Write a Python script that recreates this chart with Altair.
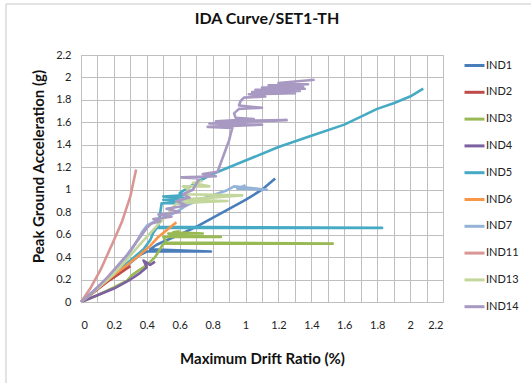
import altair as alt
import pandas as pd

chart_title = "IDA Curve/SET1-TH"
series_names = ["IND1", "IND2", "IND3", "IND4", "IND5", "IND6", "IND7", "IND11", "IND13", "IND14"]
series_colors = ["#4A7EBB", "#BE4B48", "#98B954", "#7D60A0", "#46AAC5",
                 "#F79646", "#95B3D7", "#D99694", "#C3D69B", "#A899C2"]

ind1_x = [0, 0.08, 0.16, 0.24, 0.30, 0.36, 0.40, 0.79, 0.42, 0.46, 0.52, 0.60, 0.70, 0.80, 0.90, 1.00, 1.10, 1.18]
ind1_y = [0, 0.10, 0.19, 0.28, 0.35, 0.42, 0.45, 0.45, 0.47, 0.51, 0.55, 0.60, 0.67, 0.75, 0.83, 0.91, 1.00, 1.10]

ind2_x = [0, 0.08, 0.16, 0.22, 0.27, 0.30]
ind2_y = [0, 0.09, 0.18, 0.24, 0.29, 0.32]

ind3_x = [0, 0.10, 0.20, 0.28, 0.31, 0.34, 0.40, 0.45, 0.48, 0.50, 1.53, 0.52, 0.50, 0.85, 0.55, 0.53, 0.74, 0.56, 0.60]
ind3_y = [0, 0.06, 0.13, 0.19, 0.24, 0.27, 0.33, 0.40, 0.47, 0.52, 0.52, 0.53, 0.58, 0.58, 0.59, 0.61, 0.61, 0.62, 0.63]

ind4_x = [0, 0.10, 0.20, 0.30, 0.36, 0.40, 0.38, 0.42, 0.45]
ind4_y = [0, 0.06, 0.12, 0.20, 0.26, 0.31, 0.37, 0.33, 0.36]

ind5_x = [0, 0.10, 0.20, 0.30, 0.38, 0.42, 0.44, 0.46, 1.83, 0.47, 0.48, 0.49, 0.64, 0.50, 0.65, 0.50, 0.62,
          0.60, 0.62, 0.72, 0.80, 1.00, 1.20, 1.40, 1.60, 1.80, 1.90, 2.00, 2.08]
ind5_y = [0, 0.13, 0.25, 0.37, 0.47, 0.55, 0.62, 0.66, 0.66, 0.67, 0.78, 0.88, 0.88, 0.91, 0.92, 0.94, 0.95,
          0.97, 0.99, 1.08, 1.14, 1.26, 1.38, 1.48, 1.58, 1.72, 1.77, 1.83, 1.90]

ind6_x = [0, 0.10, 0.20, 0.28, 0.35, 0.42, 0.47, 0.52, 0.58]
ind6_y = [0, 0.12, 0.24, 0.33, 0.41, 0.50, 0.58, 0.64, 0.71]

ind7_x = [0, 0.10, 0.20, 0.28, 0.33, 0.37, 0.40, 0.45, 0.52, 0.58, 0.64, 0.72, 0.80, 0.88, 0.93, 1.13, 0.95, 1.00]
ind7_y = [0, 0.13, 0.26, 0.40, 0.52, 0.62, 0.68, 0.72, 0.76, 0.80, 0.86, 0.91, 0.95, 0.99, 1.03, 1.00, 1.01, 1.04]

ind11_x = [0, 0.06, 0.12, 0.20, 0.25, 0.30, 0.31, 0.335]
ind11_y = [0, 0.13, 0.29, 0.55, 0.72, 0.94, 1.01, 1.18]

ind13_x = [0, 0.10, 0.20, 0.28, 0.35, 0.40, 0.45, 0.50, 0.55, 0.58, 0.89, 0.60, 0.98, 0.63, 0.66, 0.62, 0.78, 0.68, 0.74]
ind13_y = [0, 0.12, 0.25, 0.38, 0.50, 0.58, 0.66, 0.74, 0.82, 0.88, 0.90, 0.91, 0.95, 0.96, 1.00, 1.03, 1.03, 1.06, 1.08]

ind14_x = [0, 0.08, 0.16, 0.22, 0.28, 0.33, 0.37, 0.40, 0.43, 0.48, 0.44, 0.55, 0.47, 0.60, 0.52, 0.64, 0.58, 0.66,
           0.62, 0.68, 0.70, 0.72, 0.61, 0.82, 0.74, 0.83, 0.84, 0.86, 0.88, 0.90, 0.91,
           0.92, 0.77, 1.10, 0.78, 1.25, 0.82, 1.05, 0.94,
           0.93, 0.96, 1.10, 0.96,
           0.97, 0.99, 1.12, 1.02, 1.30, 1.04, 1.33, 1.06, 1.36, 1.10, 1.35, 1.14, 1.38, 1.20, 1.42]
ind14_y = [0, 0.10, 0.22, 0.32, 0.42, 0.52, 0.60, 0.66, 0.70, 0.72, 0.74, 0.76, 0.78, 0.80, 0.83, 0.86, 0.90, 0.93,
           0.96, 1.00, 1.05, 1.10, 1.11, 1.12, 1.14, 1.16, 1.20, 1.28, 1.36, 1.44, 1.50,
           1.55, 1.56, 1.58, 1.59, 1.62, 1.61, 1.63, 1.64,
           1.68, 1.72, 1.73, 1.75,
           1.79, 1.82, 1.83, 1.85, 1.86, 1.87, 1.88, 1.89, 1.90, 1.91, 1.92, 1.93, 1.94, 1.95, 1.98]

all_x = [ind1_x, ind2_x, ind3_x, ind4_x, ind5_x, ind6_x, ind7_x, ind11_x, ind13_x, ind14_x]
all_y = [ind1_y, ind2_y, ind3_y, ind4_y, ind5_y, ind6_y, ind7_y, ind11_y, ind13_y, ind14_y]

x_ticks = [round(i * 0.1, 1) for i in range(23)]
y_ticks = [round(i * 0.2, 1) for i in range(12)]

rows = []
k = 0
for name, xs, ys in zip(series_names, all_x, all_y):
    for xv, yv in zip(xs, ys):
        rows.append({"series": name, "x": xv, "y": yv, "i": k})
        k += 1
df = pd.DataFrame(rows)

FONT = "Lato"
GRID = "#BFBFBF"

lines = alt.Chart(df).mark_line(strokeWidth=2.6, strokeJoin="round").encode(
    x=alt.X("x:Q",
            scale=alt.Scale(domain=[0, 2.2], nice=False, zero=False),
            axis=alt.Axis(values=x_ticks, format="~g",
                          labelExpr="round(datum.value*10) % 2 == 0 ? datum.label : ''",
                          title="Maximum Drift  Ratio (%)",
                          titleX=181, titleY=56, titleBaseline="middle", titleAlign="center",
                          titleFontSize=15, titleFontWeight="bold", titleFont=FONT, titleColor="#111",
                          labelFont=FONT, labelFontSize=11, labelColor="#222", labelPadding=17,
                          ticks=False, grid=True, gridColor=GRID, domainColor=GRID)),
    y=alt.Y("y:Q",
            scale=alt.Scale(domain=[0, 2.2], nice=False, zero=False),
            axis=alt.Axis(values=y_ticks, format="~g",
                          title="Peak Ground Acceleration (g)",
                          titleX=-43, titleY=111, titleBaseline="middle", titleAlign="center",
                          titleFontSize=15, titleFontWeight="bold", titleFont=FONT, titleColor="#111",
                          labelFont=FONT, labelFontSize=11, labelColor="#222", labelPadding=10,
                          ticks=False, grid=True, gridColor=GRID, domainColor=GRID)),
    color=alt.Color("series:N",
                    scale=alt.Scale(domain=series_names, range=series_colors),
                    legend=alt.Legend(title=None, orient="none", legendX=382, legendY=-1,
                                      symbolType="stroke", symbolSize=400, symbolStrokeWidth=3,
                                      labelFont=FONT, labelFontSize=11, labelColor="#222",
                                      labelOffset=0, rowPadding=8.8)),
    order=alt.Order("i:Q"),
)

border = alt.Chart(alt.Data(values=[{"a": 1}])).mark_rect(
    fillOpacity=0, stroke="#C8C8C8", strokeWidth=1
).encode(x=alt.value(-75), x2=alt.value(600), y=alt.value(-51), y2=alt.value(500))

title_text = alt.Chart(alt.Data(values=[{"t": chart_title}])).mark_text(
    font=FONT, fontSize=16, fontWeight="bold", color="#111", align="center", baseline="middle"
).encode(text="t:N", x=alt.value(186), y=alt.value(-36))

chart = alt.layer(border, lines, title_text).properties(
    width=362, height=247,
    autosize=alt.AutoSizeParams(type="none"),
    padding={"left": 81, "top": 55, "right": 88, "bottom": 81},
).configure_view(stroke=GRID).configure(background="white")

chart.save("out.html", embed_options={"renderer": "svg", "actions": False})
